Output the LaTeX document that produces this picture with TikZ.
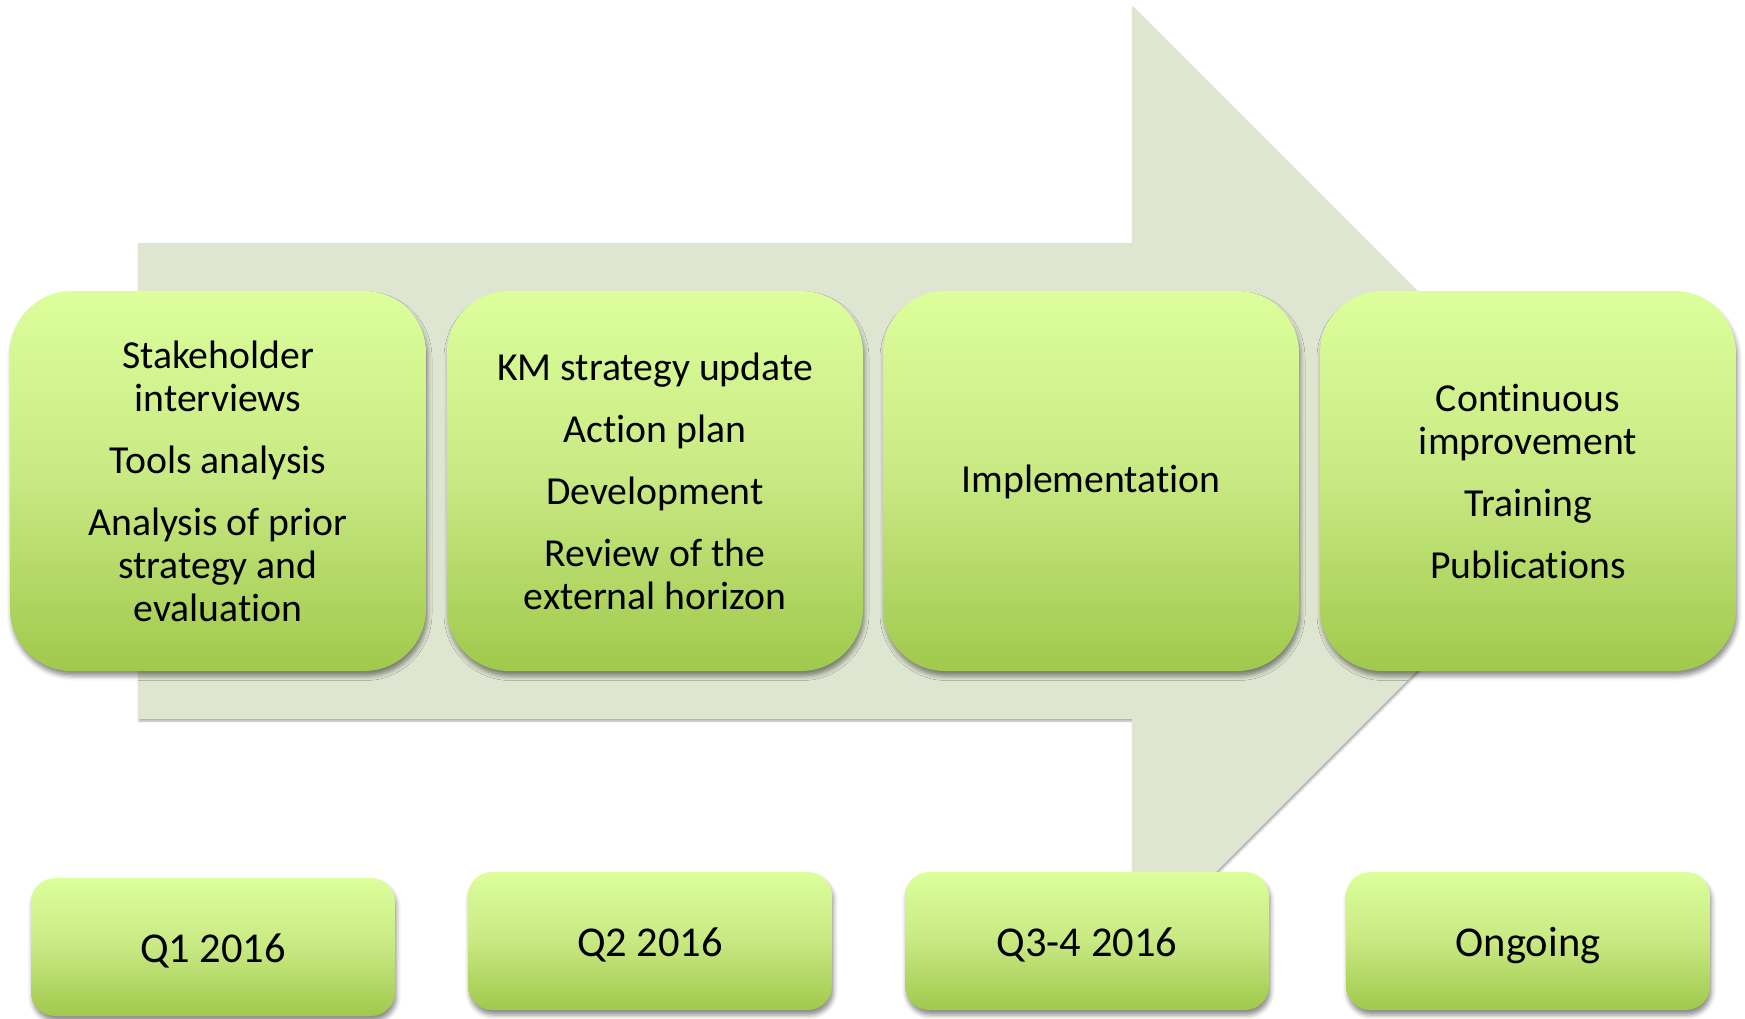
\documentclass[tikz,border=0pt]{standalone}
\usepackage{fontspec}
\setmainfont{Carlito}[Ligatures={NoCommon}]
\usetikzlibrary{shadows.blur}
\definecolor{arrowfill}{RGB}{222,230,209}
\definecolor{boxtop}{RGB}{220,255,156}
\definecolor{boxmid}{RGB}{200,232,130}
\definecolor{boxbot}{RGB}{160,201,76}
\newcommand\tstr{\rule{0pt}{30pt}}
\newcommand\bstr{\rule[-3pt]{0pt}{3pt}}
\tikzset{
  boxshadow/.style={blur shadow={shadow xshift=1.5pt, shadow yshift=-5pt, shadow blur radius=4.5pt, shadow opacity=45}},
  stagebox/.style={rectangle, rounded corners=62pt, minimum width=416pt,
    minimum height=380pt, inner sep=0pt, align=center,
    top color=boxtop, bottom color=boxbot, middle color=boxmid,
    font=\fontsize{39.7}{43}\selectfont, boxshadow},
  datebox/.style={rectangle, rounded corners=24pt, minimum width=364pt,
    minimum height=138pt, inner sep=0pt, align=center,
    text height=30pt, text depth=0pt,
    top color=boxtop, bottom color=boxbot, middle color=boxmid,
    font=\fontsize{42.5}{48}\selectfont, boxshadow},
  bigarrow/.style={fill=arrowfill,
    blur shadow={shadow xshift=1pt, shadow yshift=-2pt, shadow blur radius=2pt, shadow opacity=35}}
}
\begin{document}
\begin{tikzpicture}[x=1pt,y=-1pt]
\useasboundingbox (0,0) rectangle (1745,1018);
% background arrow
\path[bigarrow] (138,243) -- (1132,243) -- (1132,6) -- (1607,481)
  -- (1132,956) -- (1132,719) -- (138,719) -- cycle;
% stage boxes
\node[stagebox] (s1) at (218,481) {\tstr Stakeholder\\interviews\\[19pt]Tools analysis\\[19pt]Analysis of prior\\strategy and\\evaluation\bstr};
\node[stagebox] (s2) at (655,481) {\tstr KM strategy update\\[19pt]Action plan\\[19pt]Development\\[19pt]Review of the\\external horizon\bstr};
\node[stagebox] (s3) at (1091,481) {\tstr Implementation\bstr};
\node[stagebox] (s4) at (1528,481) {\tstr Continuous\\improvement\\[19pt]Training\\[19pt]Publications\bstr};
% date boxes
\node[datebox] (d1) at (213,947) {Q1 2016};
\node[datebox] (d2) at (650,941) {Q2 2016};
\node[datebox] (d3) at (1087,941) {Q3-4 2016};
\node[datebox] (d4) at (1528,941) {Ongoing};
\end{tikzpicture}
\end{document}
